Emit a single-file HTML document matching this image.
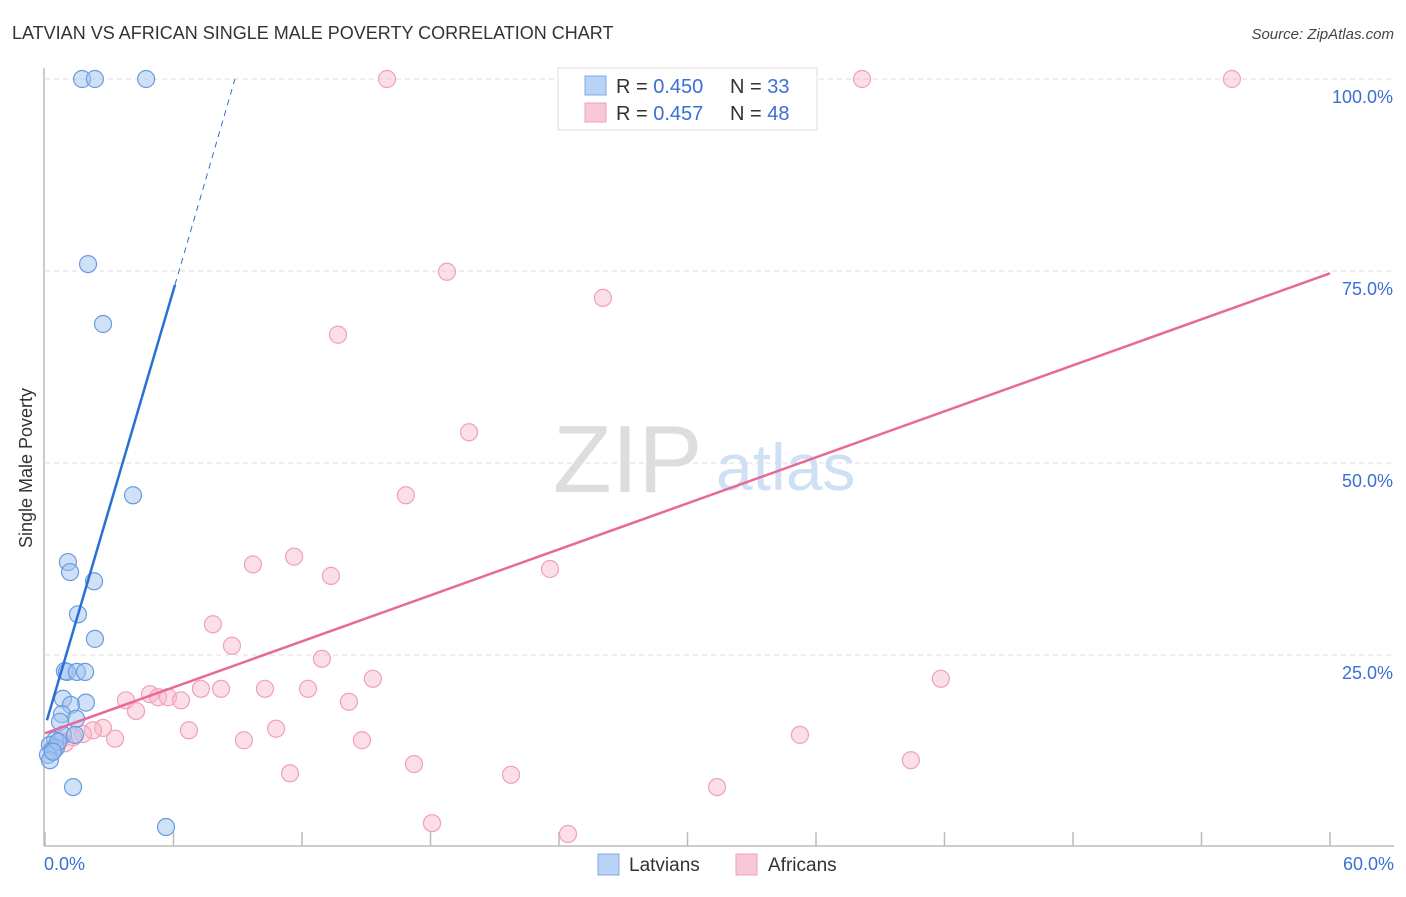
<!DOCTYPE html>
<html><head><meta charset="utf-8"><style>
body{margin:0;background:#fff;font-family:"Liberation Sans",sans-serif}
svg text{font-family:"Liberation Sans",sans-serif}
</style></head><body>
<svg id="chart" width="1406" height="892">
<text x="12" y="39" font-size="18" fill="#333">LATVIAN VS AFRICAN SINGLE MALE POVERTY CORRELATION CHART</text>
<text x="1394" y="39" font-size="15" fill="#444" font-style="italic" text-anchor="end">Source: ZipAtlas.com</text>
<g id="grid"></g>
<g>
<text x="553" y="492" font-size="96" font-family="Liberation Serif" fill="#ddd">ZIP</text>
<text x="716" y="490" font-size="66" fill="#cfe0f4">atlas</text>
</g>
<line x1="44" y1="68" x2="44" y2="846" stroke="#bbb" stroke-width="1.5"/>
<line x1="44" y1="846" x2="1394" y2="846" stroke="#bbb" stroke-width="1.5"/>
<g id="ticks"></g>
<g id="pink"></g>
<g id="blue"></g>
<g id="trends"></g>
<text x="20" y="456" font-size="18" fill="#333" transform="rotate(-90 32 456)" text-anchor="middle">Single Male Poverty</text>
<text x="44" y="870" font-size="18" fill="#3b6fd4">0.0%</text>
<text x="1394" y="870" font-size="18" fill="#3b6fd4" text-anchor="end">60.0%</text>
<g>
<rect x="558" y="68" width="259" height="62" fill="#fff" stroke="#ddd"/>
<rect x="585" y="76" width="21" height="19" fill="#b8d3f5" stroke="#7fa8e6"/>
<rect x="585" y="103" width="21" height="19" fill="#f9c8d6" stroke="#f0a0b8"/>
<text x="616" y="93" font-size="20" fill="#333">R = <tspan fill="#3b6fd4">0.450</tspan></text>
<text x="730" y="93" font-size="20" fill="#333">N = <tspan fill="#3b6fd4">33</tspan></text>
<text x="616" y="120" font-size="20" fill="#333">R = <tspan fill="#3b6fd4"> 0.457</tspan></text>
<text x="730" y="120" font-size="20" fill="#333">N = <tspan fill="#3b6fd4">48</tspan></text>
</g>
<g>
<rect x="598" y="854" width="21" height="21" fill="#b8d3f5" stroke="#7fa8e6"/>
<text x="629" y="871" font-size="19" fill="#333">Latvians</text>
<rect x="736" y="854" width="21" height="21" fill="#f9c8d6" stroke="#f0a0b8"/>
<text x="768" y="871" font-size="19" fill="#333">Africans</text>
</g>
</svg>
<script>
const yTicks=[25,50,75,100];
const yTickLabels=["25.0%","50.0%","75.0%","100.0%"];
const xTicks=[0,6,12,18,24,30,36,42,48,54,60];
const blueX=[1.73,2.33,4.72,2.01,2.71,4.11,1.07,1.17,2.29,1.54,2.33,0.93,1.03,1.49,1.87,0.84,1.91,1.21,0.79,1.45,0.70,0.84,1.40,0.47,0.23,0.33,0.51,0.14,0.23,1.31,5.65,0.61,0.37];
const blueY=[100,100,100,75.9,68.1,45.8,37.1,35.8,34.6,30.3,27.1,22.9,22.8,22.8,22.8,19.3,18.8,18.5,17.3,16.7,16.3,14.6,14.6,13.9,13.3,12.6,12.9,12.0,11.3,7.8,2.6,13.7,12.4];
const pinkX=[15.97,38.15,55.42,18.77,26.05,13.68,19.80,16.85,23.58,9.71,11.63,13.35,7.84,8.73,12.93,15.31,41.83,3.78,4.90,5.28,5.74,6.35,7.28,8.22,10.27,12.28,14.19,4.25,2.71,2.24,1.77,1.31,6.72,10.79,3.27,9.29,14.80,35.25,11.44,17.23,21.76,40.43,31.38,18.07,24.42,0.70,0.93,0.47];
const pinkY=[100,100,100,74.9,71.5,66.7,54.0,45.8,36.2,36.8,37.8,35.3,29.0,26.2,24.5,21.9,21.9,19.1,19.9,19.5,19.5,19.1,20.6,20.6,20.6,20.6,18.9,17.7,15.5,15.2,14.7,14.3,15.2,15.4,14.1,13.9,13.9,14.6,9.6,10.8,9.4,11.3,7.8,3.1,1.7,13.9,13.5,13.0];
const blueTrend={x0:0.09,y0:16.5,x1:6.07,y1:73.2,xd:8.87,yd:100};
const pinkTrend={x0:0,y0:14.8,x1:60,y1:74.7};
const NS="http://www.w3.org/2000/svg";
const sx=v=>45+v/60*1285;
const sy=v=>847-v/100*768;
function mk(t,a,p){const e=document.createElementNS(NS,t);for(const k in a)e.setAttribute(k,a[k]);p.appendChild(e);return e;}
const grid=document.getElementById('grid');
yTicks.forEach((t,i)=>{
 const l=mk('line',{x1:45,x2:1394,y1:sy(t),y2:sy(t),stroke:'#ddd','stroke-dasharray':'5,4'},grid);
 
 
 const tx=mk('text',{x:1393,y:sy(t)+24,'font-size':18,fill:'#3b6fd4','text-anchor':'end'},grid);
 tx.textContent=yTickLabels[i];
 
 
});
const ticks=document.getElementById('ticks');
xTicks.forEach(t=>{
 const l=mk('line',{x1:sx(t),x2:sx(t),y1:832,y2:846,stroke:'#bbb','stroke-width':1.5},ticks);
 
 
});
function pts(xs,ys,g,fill,stroke,name){
 xs.forEach((x,i)=>{
  const c=mk('circle',{cx:sx(x),cy:sy(ys[i]),r:8.5,fill:fill,stroke:stroke,'stroke-width':1.2},g);
  
  
 });
}
pts(pinkX,pinkY,document.getElementById('pink'),'rgba(248,182,202,0.45)','#f0a0b8','africans-point');
pts(blueX,blueY,document.getElementById('blue'),'rgba(160,196,240,0.5)','#6a9be0','latvians-point');
const tr=document.getElementById('trends');
let a=mk('line',{x1:sx(blueTrend.x0),y1:sy(blueTrend.y0),x2:sx(blueTrend.x1),y2:sy(blueTrend.y1),stroke:'#2a6fd6','stroke-width':2.5},tr);


a=mk('line',{x1:sx(blueTrend.x1),y1:sy(blueTrend.y1),x2:sx(blueTrend.xd),y2:sy(blueTrend.yd),stroke:'#2a6fd6','stroke-width':1,'stroke-dasharray':'6,5'},tr);


a=mk('line',{x1:sx(pinkTrend.x0),y1:sy(pinkTrend.y0),x2:sx(pinkTrend.x1),y2:sy(pinkTrend.y1),stroke:'#e8689a','stroke-width':2.5},tr);


</script>
</body></html>
